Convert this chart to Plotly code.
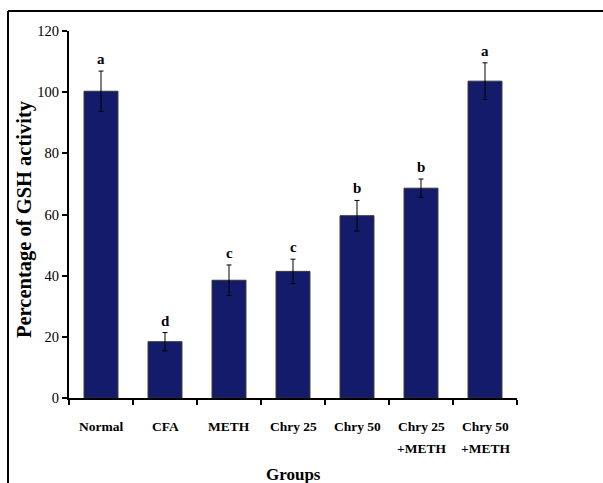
import plotly.graph_objects as go

groups = ["Normal", "CFA", "METH", "Chry 25", "Chry 50", "Chry 25 +METH", "Chry 50 +METH"]
label_line1 = ["Normal", "CFA", "METH", "Chry 25", "Chry 50", "Chry 25", "Chry 50"]
label_line2 = ["", "", "", "", "", "+METH", "+METH"]
gsh_values = [100.3, 18.4, 38.5, 41.4, 59.6, 68.6, 103.6]
gsh_errors = [6.6, 3.0, 5.0, 4.0, 5.0, 3.0, 6.0]
sig_letters = ["a", "d", "c", "c", "b", "b", "a"]
y_ticks = [0, 20, 40, 60, 80, 100, 120]

FONT = "Liberation Serif, Times New Roman, serif"
BAR = "#141b6b"

# plot area geometry (pixels)
L, R, T, B = 69, 517, 31, 398
H = B - T
W = R - L


def py(pix):
    return (B - pix) / H


def px(pix):
    return (pix - L) / W


fig = go.Figure()
fig.add_trace(go.Bar(
    x=groups, y=gsh_values,
    marker=dict(color=BAR, line=dict(color="#333333", width=1)),
    error_y=dict(type="data", array=gsh_errors, arrayminus=gsh_errors, visible=True,
                 color="black", thickness=1, width=2.5),
    width=0.53,
))

for g, v, e, s in zip(groups, gsh_values, gsh_errors, sig_letters):
    fig.add_annotation(x=g, y=v + e, text="<b>%s</b>" % s, showarrow=False,
                       yanchor="bottom", yshift=2,
                       font=dict(family=FONT, size=15, color="black"))

for g, l1, l2 in zip(groups, label_line1, label_line2):
    fig.add_annotation(x=g, xref="x", y=py(426), yref="paper", text="<b>%s</b>" % l1,
                       showarrow=False, yanchor="middle",
                       font=dict(family=FONT, size=13.5, color="black"))
    if l2:
        fig.add_annotation(x=g, xref="x", y=py(448), yref="paper", text="<b>%s</b>" % l2,
                           showarrow=False, yanchor="middle",
                           font=dict(family=FONT, size=13.5, color="black"))

fig.add_annotation(x=0.5, xref="paper", y=py(474), yref="paper", text="<b>Groups</b>",
                   showarrow=False, yanchor="middle",
                   font=dict(family=FONT, size=17, color="black"))

fig.add_annotation(x=px(24), xref="paper", y=py(219), yref="paper",
                   text="<b>Percentage of GSH activity</b>", textangle=-90,
                   showarrow=False, xanchor="center", yanchor="middle",
                   font=dict(family=FONT, size=20.5, color="black"))

fig.update_layout(
    width=603, height=483,
    margin=dict(l=L, r=603 - R, t=T, b=483 - B),
    plot_bgcolor="white", paper_bgcolor="white",
    showlegend=False,
    font=dict(family=FONT, color="black"),
    bargap=0.47,
)
fig.update_xaxes(
    type="category",
    showline=True, linecolor="black", linewidth=2,
    ticks="outside", tickson="boundaries", ticklen=5, tickwidth=2, tickcolor="black",
    showticklabels=False,
    showgrid=False, zeroline=False,
)
fig.update_yaxes(
    range=[0, 120], tickvals=y_ticks,
    showline=True, linecolor="black", linewidth=2,
    ticks="outside", ticklen=5, tickwidth=2, tickcolor="black",
    tickfont=dict(family=FONT, size=14.5, color="black"),
    tickprefix="<b>", ticksuffix="</b>",
    showgrid=False, zeroline=False,
)

# outer frame (top and left edges visible)
fig.add_shape(type="line", xref="paper", yref="paper",
              x0=px(8), x1=px(603), y0=py(11), y1=py(11),
              line=dict(color="black", width=2))
fig.add_shape(type="line", xref="paper", yref="paper",
              x0=px(8), x1=px(8), y0=py(11), y1=py(490),
              line=dict(color="black", width=2))

fig.write_html("out.html")
